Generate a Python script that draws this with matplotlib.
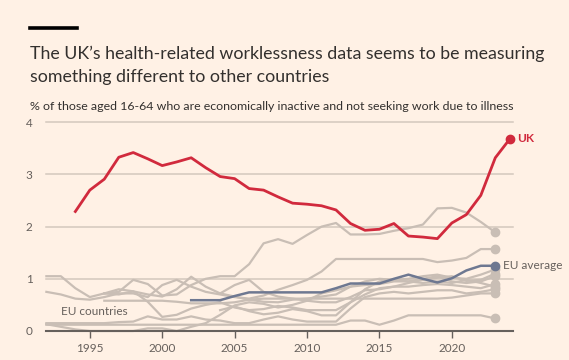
import numpy as np
import matplotlib
matplotlib.use('Agg')
import matplotlib.pyplot as plt

years = list(range(1992, 2024))
ukYears = list(range(1994, 2025))
uk = [2.29, 2.70, 2.91, 3.33, 3.42, 3.30, 3.17, 3.24, 3.32, 3.13, 2.96, 2.92, 2.73, 2.70, 2.57, 2.45,
      2.43, 2.40, 2.32, 2.06, 1.93, 1.95, 2.06, 1.82, 1.80, 1.77, 2.07, 2.23, 2.60, 3.32, 3.68]

euYears = list(range(2002, 2024))
euAvg = [0.59, 0.59, 0.59, 0.67, 0.74, 0.74, 0.74, 0.74, 0.74, 0.74, 0.82, 0.91, 0.91, 0.91, 1.00,
         1.08, 1.00, 0.93, 1.01, 1.16, 1.25, 1.25]

N = None
# EU countries, 1992-2023 (None = no data)
country1 = [1.05, 1.05, 0.82, 0.65, 0.72, 0.75, 0.98, 0.90, 0.68, 0.70, 0.88, 1.00, 1.05, 1.05, 1.28, 1.68,
            1.76, 1.67, 1.84, 2.00, 2.07, 1.85, 1.85, 1.86, 1.92, 1.97, 2.04, 2.35, 2.36, 2.27, 2.09, 1.89]
country2 = [0.75, 0.70, 0.62, 0.60, 0.65, 0.72, 0.72, 0.65, 0.88, 0.98, 0.85, 0.75, 0.70, 0.65, 0.62, 0.68,
            0.79, 0.88, 0.98, 1.14, 1.38, 1.38, 1.38, 1.38, 1.38, 1.38, 1.38, 1.32, 1.35, 1.40, 1.57, 1.57]
country3 = [N, N, N, N, 0.72, 0.80, 0.76, 0.70, 0.66, 0.80, 1.04, 0.85, 0.72, 0.66, 0.60, 0.56,
            0.55, 0.60, 0.62, 0.66, 0.70, 0.85, 0.95, 1.00, 0.98, 1.00, 1.05, 1.08, 1.02, 1.00, 1.08, 1.18]
country4 = [N, N, N, N, N, N, N, N, N, N, N, N, 0.72, 0.88, 0.98, 0.75,
            0.66, 0.62, 0.58, 0.55, 0.55, 0.65, 0.78, 0.80, 0.85, 0.92, 0.98, 1.02, 1.05, 0.96, 0.98, 1.10]
country5 = [0.13, 0.08, 0.03, 0.00, 0.00, 0.00, 0.00, 0.05, 0.05, 0.00, 0.08, 0.15, 0.31, 0.49, 0.55, 0.52,
            0.45, 0.50, 0.58, 0.72, 0.78, 0.85, 0.88, 0.90, 0.95, 0.95, 1.00, 1.05, 0.95, 0.92, 0.95, 1.05]
country6 = [N, N, N, N, 0.72, 0.70, 0.76, 0.56, 0.27, 0.31, 0.43, 0.50, 0.55, 0.45, 0.40, 0.42,
            0.48, 0.45, 0.40, 0.40, 0.40, 0.55, 0.70, 0.82, 0.85, 0.85, 0.88, 0.90, 0.88, 0.85, 0.82, 0.90]
country7 = [0.15, 0.15, 0.15, 0.15, 0.15, 0.17, 0.18, 0.28, 0.22, 0.22, 0.28, 0.22, 0.20, 0.15, 0.15, 0.22,
            0.28, 0.22, 0.18, 0.18, 0.18, 0.43, 0.65, 0.72, 0.75, 0.72, 0.75, 0.78, 0.78, 0.72, 0.75, 0.80]
country8 = [N, N, N, N, 0.58, 0.58, 0.58, 0.58, 0.58, 0.56, 0.53, 0.53, 0.53, 0.55, 0.60, 0.62,
            0.62, 0.62, 0.62, 0.62, 0.62, 0.62, 0.62, 0.62, 0.62, 0.62, 0.62, 0.62, 0.64, 0.68, 0.72, 0.72]
country9 = [0.12, 0.12, 0.12, 0.12, 0.12, 0.12, 0.12, 0.12, 0.12, 0.12, 0.12, 0.12, 0.12, 0.12, 0.12, 0.12,
            0.12, 0.12, 0.12, 0.12, 0.12, 0.20, 0.20, 0.12, 0.20, 0.30, 0.30, 0.30, 0.30, 0.30, 0.30, 0.24]
country10 = [N, N, N, N, N, N, N, N, N, N, N, N, 0.40, 0.47, 0.38, 0.32,
             0.35, 0.42, 0.38, 0.30, 0.30, 0.55, 0.80, 0.95, 0.98, 0.95, 0.92, 0.95, 0.92, 0.98, 0.92, 0.85]
countries = [country1, country2, country3, country4, country5, country6, country7, country8, country9, country10]

bg = '#fff1e5'
red = '#d12a3d'
slate = '#6e7891'
grey = '#c9beb5'
textCol = '#33302e'
axCol = '#66605c'

plt.rcParams['font.family'] = ['Lato', 'DejaVu Sans']

fig = plt.figure(figsize=(5.69, 3.6), dpi=100, facecolor=bg)
ax = fig.add_axes([0.0815, 0.0806, 0.8195, 0.5797])
ax.set_facecolor(bg)

for v in [1, 2, 3, 4]:
    ax.axhline(v, color='#d3c8bd', lw=1.1, zorder=1, clip_on=False)

for c in countries:
    y = np.array([np.nan if v is None else v for v in c])
    ax.plot(years, y, color=grey, lw=1.6, zorder=2, clip_on=False, solid_joinstyle='round')
    ax.plot(years[-1], y[-1], 'o', color=grey, ms=6, zorder=2, clip_on=False)

ax.plot(euYears, euAvg, color=slate, lw=1.8, zorder=3, clip_on=False)
ax.plot(euYears[-1], euAvg[-1], 'o', color=slate, ms=6, zorder=3, clip_on=False)
ax.plot(ukYears, uk, color=red, lw=2.0, zorder=4, clip_on=False)
ax.plot(ukYears[-1], uk[-1], 'o', color=red, ms=6, zorder=4, clip_on=False)

ax.text(ukYears[-1] + 0.5, uk[-1], 'UK', color=red, fontsize=8.5, fontweight='bold', va='center')
ax.text(euYears[-1] + 0.55, euAvg[-1], 'EU average', color=axCol, fontsize=8.5, va='center')
ax.text(1993.0, 0.38, 'EU countries', color=axCol, fontsize=8.5, va='center')

ax.set_xlim(1992, 2024.2)
ax.set_ylim(0, 4)
ax.set_yticks([0, 1, 2, 3, 4])
ax.set_xticks([1995, 2000, 2005, 2010, 2015, 2020])
ax.tick_params(axis='y', length=0, pad=10, labelsize=8.5, labelcolor=axCol)
ax.tick_params(axis='x', length=5, width=1, color=axCol, pad=4, labelsize=8.5, labelcolor=axCol)
for s in ['top', 'right', 'left']:
    ax.spines[s].set_visible(False)
ax.spines['bottom'].set_color(axCol)
ax.spines['bottom'].set_linewidth(1.5)
ax.spines['bottom'].set_zorder(5)

fig.add_artist(plt.Line2D([30 / 569, 77 / 569], [1 - 28 / 360, 1 - 28 / 360], color='black', lw=2.6))
fig.text(30 / 569, 1 - 54 / 360, 'The UK\u2019s health-related worklessness data seems to be measuring',
         fontsize=12.8, color=textCol, va='center')
fig.text(30 / 569, 1 - 77 / 360, 'something different to other countries',
         fontsize=12.8, color=textCol, va='center')
fig.text(30 / 569, 1 - 106 / 360, '% of those aged 16-64 who are economically inactive and not seeking work due to illness',
         fontsize=8.9, color=textCol, va='center')

fig.savefig('out.png', dpi=100, facecolor=bg)
